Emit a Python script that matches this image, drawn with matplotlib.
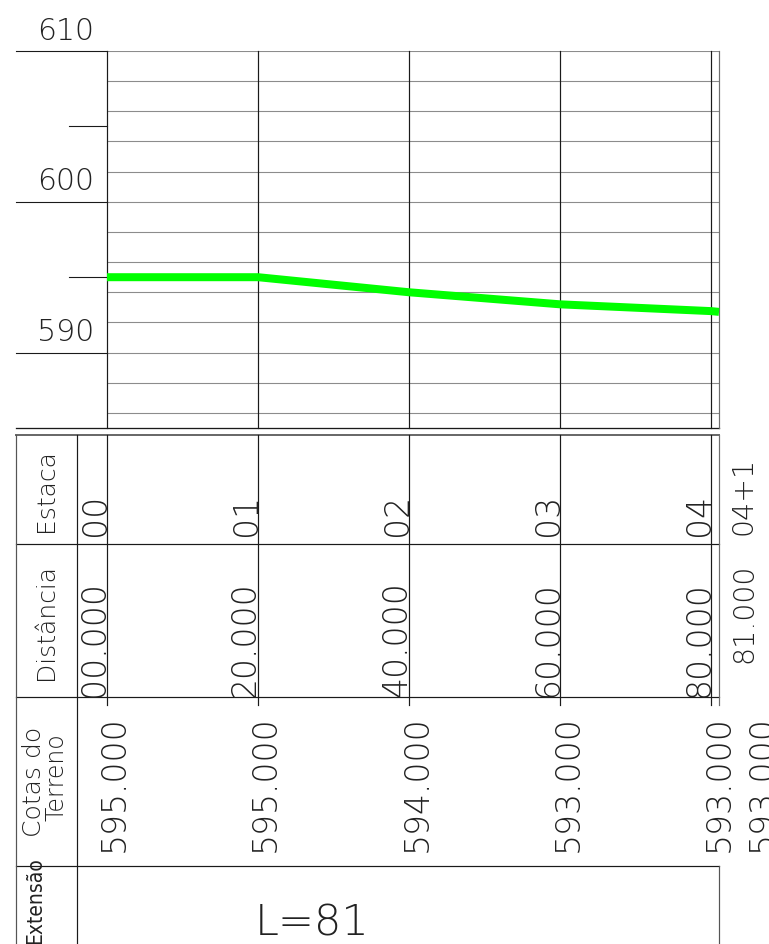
import matplotlib
matplotlib.use("Agg")
import matplotlib.pyplot as plt
from matplotlib import font_manager as fm
from matplotlib.font_manager import FontProperties
from matplotlib.transforms import Affine2D, blended_transform_factory as blend

# ---------------- data ----------------
estacas = ["00", "01", "02", "03", "04", "04+1"]
distancias = [0, 20, 40, 60, 80, 81]
distancia_labels = ["00.000", "20.000", "40.000", "60.000", "80.000", "81.000"]
cotas_terreno = [595, 595, 594, 593, 593, 593]
cota_labels = ["595.000", "595.000", "594.000", "593.000", "593.000", "593.000"]
perfil = [595.0, 595.0, 594.0, 593.2, 592.75, 592.7]
y_major = [590, 600, 610]
y_minor = [595, 605]
y_grid = list(range(586, 611, 2))
y_min, y_max = 585, 610
extensao_label = "L=81"
row_titles = ["Estaca", "Distância", "Cotas do", "Terreno", "Extensão"]

# ---------------- fonts ----------------
def find_font(prefs):
    for fam, key in prefs:
        for f in fm.fontManager.ttflist:
            fn = f.fname.lower().replace("-", "").replace("_", "")
            base = fn.rsplit("/", 1)[-1]
            if f.name == fam and key in base and "italic" not in base \
                    and "oblique" not in base and "bold" not in base:
                return f.fname
    return None

thin = find_font([("DejaVu Sans", "extralight"), ("Roboto", "light"),
                  ("Lato", "light"), ("Open Sans", "light")])
narrow = find_font([("Liberation Sans Narrow", "regular"), ("Liberation Sans Narrow", "narrow"),
                    ("DejaVu Sans", "condensed"), ("Roboto Condensed", "regular"),
                    ("Open Sans", "condensed")])

def fp(size, fname=thin):
    if fname:
        return FontProperties(fname=fname, size=size)
    return FontProperties(family="DejaVu Sans", size=size)

# ---------------- figure ----------------
W, H = 769, 944
fig = plt.figure(figsize=(W / 100, H / 100), dpi=100)
X0, X1 = 107, 719          # plot left/right (px)
YT, YB = 51, 428           # plot top/bottom (px from top)
ax = fig.add_axes([X0 / W, 1 - YB / H, (X1 - X0) / W, (YB - YT) / H])
ax.set_xlim(distancias[0], distancias[-1])
ax.set_ylim(y_min, y_max)
ax.axis("off")

P = Affine2D().scale(1, -1).translate(0, H)      # pixel (from top) -> display
TX = blend(ax.transData, P)                      # x metres, y px
TY = blend(P, ax.transData)                      # x px, y elevation

px = 0.72  # one pixel in points
dark = "#1a1a1a"
grey = "#8c8c8c"

# horizontal grid
for g in y_grid:
    ax.plot([distancias[0], distancias[-1]], [g, g], color=grey, lw=1.1 * px, zorder=1)
# bottom border of plot
ax.plot([16, X1], [y_min, y_min], transform=TY, color=dark, lw=1.3 * px, clip_on=False, zorder=2)
# vertical station lines in plot
for i, d in enumerate(distancias):
    ax.plot([d, d], [y_min, y_max], color=dark if i < len(distancias) - 1 else "#6e6e6e",
            lw=1.2 * px, zorder=2, clip_on=False)
# y ticks
for v in y_major:
    ax.plot([16, X0], [v, v], transform=TY, color=dark, lw=1.1 * px, clip_on=False)
    ax.annotate(str(v), xy=(94, v), xycoords=TY, xytext=(0, 11.5), textcoords="offset pixels",
                ha="right", va="baseline", fontproperties=fp(21.6), color="#222222")
for v in y_minor:
    ax.plot([69, X0], [v, v], transform=TY, color=dark, lw=1.1 * px, clip_on=False)

# terrain profile
ax.plot(distancias, perfil, color="#00ff00", lw=8 * px, solid_capstyle="butt", zorder=5, clip_on=False)

# ---------------- table ----------------
def hline(y, xa, xb, color=dark, lw=1.2):
    ax.plot([xa, xb], [y, y], transform=P, color=color, lw=lw * px, clip_on=False)

def vline(x, ya, yb, color=dark, lw=1.2, trans=P):
    ax.plot([x, x], [ya, yb], transform=trans, color=color, lw=lw * px, clip_on=False)

hline(435, 16, X1, color="#6a6a6a", lw=2.0)
hline(544, 16, X1)
hline(697, 16, X1)
hline(866, 16, X1)
vline(16, 435, H + 2, color="#555555")
vline(77, 435, H + 2)
vline(X1, 866, H + 2, color="#555555")
for i, d in enumerate(distancias):
    vline(d, 435, 705, color=dark if i < len(distancias) - 1 else "#6e6e6e", trans=TX)

def rtext(s, x, y, size, trans, dx=0, fname=thin, color="#222222", ha="left"):
    ax.annotate(s, xy=(x, y), xycoords=trans, xytext=(dx, 0), textcoords="offset pixels",
                rotation=90, rotation_mode="anchor", ha=ha, va="baseline",
                fontproperties=fp(size, fname), color=color, annotation_clip=False)

# row titles
rtext(row_titles[0], 53, 532, 18, P)
rtext(row_titles[1], 53, 680, 18, P)
rtext(row_titles[2], 41, 782, 18, P, ha="center")
rtext(row_titles[3], 63, 777, 17, P, ha="center")
rtext(row_titles[4], 41, 944, 15, P, fname=narrow)

# station / distance / elevation labels
n = len(distancias)
for i in range(n):
    d = distancias[i]
    if i < n - 1:
        rtext(estacas[i], d, 536, 23.8, TX, dx=-2.5)
        rtext(distancia_labels[i], d, 697, 23.8, TX, dx=-3)
        rtext(cota_labels[i], d, 852, 23.8, TX, dx=17)
    else:
        rtext(estacas[i], d, 535, 20.5, TX, dx=33)
        rtext(distancia_labels[i], d, 663, 20.5, TX, dx=33)
        rtext(cota_labels[i], d, 852, 23.8, TX, dx=53)

# extension label
ax.annotate(extensao_label, xy=(312, 936), xycoords=P, ha="center", va="baseline",
            fontproperties=fp(31), color="#222222", annotation_clip=False)

fig.savefig("out.png", dpi=100, facecolor="white")
